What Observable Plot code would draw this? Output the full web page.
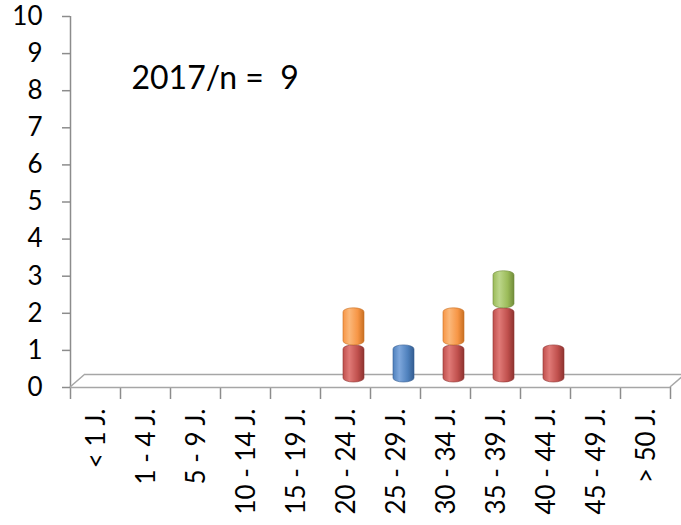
<!DOCTYPE html>
<html>
<head>
<meta charset="utf-8">
<script src="https://cdn.jsdelivr.net/npm/d3@7"></script>
<script src="https://cdn.jsdelivr.net/npm/@observablehq/plot@0.6"></script>
<style>
  html, body { margin: 0; padding: 0; background: #fff; }
  #chart svg { display: block; }
</style>
</head>
<body>
<div id="chart"></div>
<script>
const categories = ["< 1 J.", "1 - 4 J.", "5 - 9 J.", "10 - 14 J.", "15 - 19 J.", "20 - 24 J.", "25 - 29 J.", "30 - 34 J.", "35 - 39 J.", "40 - 44 J.", "45 - 49 J.", "> 50 J."];
const seriesNames = ["red", "orange", "blue", "green"];
const redValues    = [0, 0, 0, 0, 0, 1, 0, 1, 2, 1, 0, 0];
const orangeValues = [0, 0, 0, 0, 0, 1, 0, 1, 0, 0, 0, 0];
const blueValues   = [0, 0, 0, 0, 0, 0, 1, 0, 0, 0, 0, 0];
const greenValues  = [0, 0, 0, 0, 0, 0, 0, 0, 1, 0, 0, 0];
const yTicks = [0, 1, 2, 3, 4, 5, 6, 7, 8, 9, 10];
const year = "2017";

const colors = {
  red: ["#e07a77", "#c0504d", "#8e3330"],
  orange: ["#fbb87a", "#f79646", "#c86f22"],
  blue: ["#7ea7dc", "#4f81bd", "#345d91"],
  green: ["#bcd68a", "#9bbb59", "#718c3a"]
};

const seriesValues = [redValues, orangeValues, blueValues, greenValues];
const rows = [];
const base = categories.map(() => 0);
seriesValues.forEach((vals, s) => {
  vals.forEach((v, i) => {
    if (v > 0) {
      rows.push({i, series: seriesNames[s], y1: base[i], y2: base[i] + v});
      base[i] += v;
    }
  });
});
const total = d3.sum(seriesValues.flat());
const labelRows = categories.map((c, i) => ({i, c}));

const font = "Lato, 'Open Sans', sans-serif";

const plot = Plot.plot({
  width: 681,
  height: 525,
  marginLeft: 70,
  marginRight: 11,
  marginTop: 16,
  marginBottom: 138,
  style: {fontFamily: font, background: "#fff", color: "#000"},
  x: {type: "linear", domain: [0, categories.length]},
  y: {domain: [0, 10]},
  marks: [
    // y axis
    Plot.axisY({ticks: yTicks, tickSize: 8, tickPadding: 20, fontSize: 26, stroke: "#8c8c8c", strokeWidth: 1.5, color: "#000", label: null, tickFormat: d => d}),
    Plot.ruleX([0], {stroke: "#8c8c8c", strokeWidth: 1.5}),
    // x axis ticks at band edges
    Plot.axisX({ticks: d3.range(categories.length + 1), tickSize: 12, tickFormat: () => "", stroke: "#8c8c8c", strokeWidth: 1.5, label: null}),
    // floor front and back edges
    Plot.ruleY([0], {stroke: "#a6a6a6", strokeWidth: 1.5}),
    Plot.ruleY([0], {stroke: "#a6a6a6", strokeWidth: 1.5, dx: 15, dy: -13}),
    // category labels
    Plot.text(labelRows, {x: d => d.i + 0.5, y: 0, text: "c", rotate: -90, textAnchor: "end", lineAnchor: "middle", fontSize: 26, dy: 21, dx: 1, fill: "#000"}),
    // bars
    ...seriesNames.map(s => Plot.rect(rows.filter(r => r.series === s), {
      x1: "i", x2: d => d.i + 1, y1: "y1", y2: "y2",
      insetLeft: 23, insetRight: 6, dy: -5,
      rx: 10.5, ry: 4,
      fill: `url(#grad-${s})`,
      stroke: colors[s][2], strokeWidth: 0.6
    })),
    // annotation
    Plot.text([`${year}/n =  ${total}`], {frameAnchor: "top-left", dx: 61, dy: 62, textAnchor: "start", lineAnchor: "middle", fontSize: 32, fill: "#000"})
  ]
});

// gradients for cylinder shading
const svg = d3.select(plot.tagName === "svg" ? plot : plot.querySelector("svg"));
const defs = svg.insert("defs", ":first-child");
for (const s of seriesNames) {
  const g = defs.append("linearGradient").attr("id", `grad-${s}`).attr("x1", "0").attr("x2", "1").attr("y1", "0").attr("y2", "0");
  g.append("stop").attr("offset", "0%").attr("stop-color", colors[s][1]);
  g.append("stop").attr("offset", "30%").attr("stop-color", colors[s][0]);
  g.append("stop").attr("offset", "70%").attr("stop-color", colors[s][1]);
  g.append("stop").attr("offset", "100%").attr("stop-color", colors[s][2]);
}

// floor diagonals computed from scales
const xs = plot.scale("x"), ys = plot.scale("y");
const y0 = ys.apply(0);
for (const v of [0, categories.length]) {
  const x0 = xs.apply(v);
  svg.append("line").attr("x1", x0).attr("y1", y0).attr("x2", x0 + 15).attr("y2", y0 - 13)
    .attr("stroke", "#a6a6a6").attr("stroke-width", 1.5);
}

document.getElementById("chart").appendChild(plot);
</script>
</body>
</html>
